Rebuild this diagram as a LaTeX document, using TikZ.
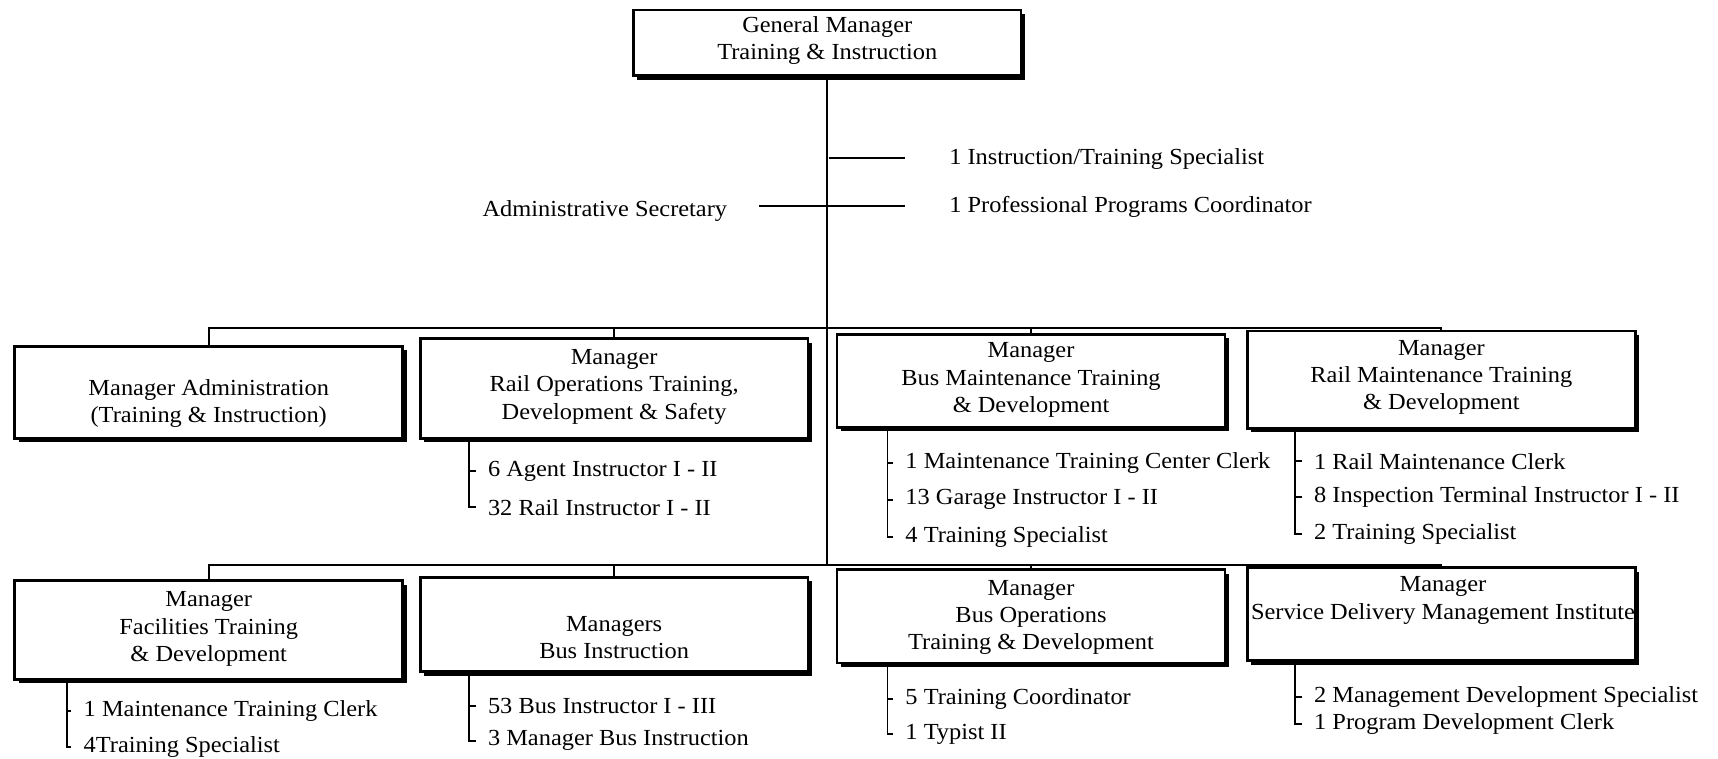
\documentclass[tikz,border=0pt]{standalone}
\usepackage{fontspec}
\setmainfont{Liberation Serif}[FakeStretch=1.06]
\usetikzlibrary{shadows}
\tikzset{
  orgbox/.style={draw, line width=1.2pt, fill=white, inner sep=0pt, minimum width=177pt,
    drop shadow={shadow xshift=1.8pt, shadow yshift=-1.8pt, opacity=1, fill=black}},
  boxtext/.style={align=center, inner sep=0pt, font=\fontsize{10.5pt}{12.5pt}\selectfont},
  item/.style={anchor=west, inner sep=0pt, font=\fontsize{10.5pt}{12.5pt}\selectfont},
  wire/.style={line width=0.9pt},
  tk/.style={xshift=-5.5pt},
}
\begin{document}
\begin{tikzpicture}[x=0.5pt,y=-0.5pt]
\useasboundingbox (0,0) rectangle (1568,692);
% boxes
\node[orgbox, minimum height=30pt] (GM) at (755,39) {};
\node[boxtext] (GMt) at (755,37) {General Manager\\Training \& Instruction};

\node[orgbox, minimum height=42pt] (A) at (190.5,358) {};
\node[boxtext] (At) at (190.5,368) {Manager Administration\\(Training \& Instruction)};
\node[orgbox, minimum height=45.5pt] (B) at (560.5,354.5) {};
\node[boxtext] (Bt) at (560.5,353) {Manager\\Rail Operations Training,\\Development \& Safety};
\node[orgbox, minimum height=42.5pt] (C) at (941,347.5) {};
\node[boxtext] (Ct) at (941,347) {Manager\\Bus Maintenance Training\\\& Development};
\node[orgbox, minimum height=44.5pt] (D) at (1315.5,346.5) {};
\node[boxtext] (Dt) at (1315.5,344.5) {Manager\\Rail Maintenance Training\\\& Development};

\node[orgbox, minimum height=45pt] (E) at (190.5,575) {};
\node[boxtext] (Et) at (190.5,574) {Manager\\Facilities Training\\\& Development};
\node[orgbox, minimum height=43pt] (F) at (560.5,570) {};
\node[boxtext] (Ft) at (560.5,582) {Managers\\Bus Instruction};
\node[orgbox, minimum height=42.5pt] (G) at (941,562.5) {};
\node[boxtext] (Gt) at (941,563.5) {Manager\\Bus Operations\\Training \& Development};
\node[orgbox, minimum height=42.5pt] (H) at (1315.5,560.5) {};
\node[boxtext] (Ht) at (1317,548) {Manager\\Service Delivery Management Institute};

% staff of GM
\coordinate (bus1) at (755,299);
\coordinate (bus2) at (755,516);
\draw[wire] (GM.south) -- (bus2);
\node[item] (s1) at (866,145) {1 Instruction/Training Specialist};
\node[item] (s2) at (866,189) {1 Professional Programs Coordinator};
\node[item, anchor=east] (sec) at (664,193) {Administrative Secretary};
\coordinate (s1a) at (757,144);
\coordinate (s1b) at (826,144);
\coordinate (s2a) at (693,188);
\coordinate (s2b) at (826,188);
\draw[wire] (s1a) -- (s1b);
\draw[wire] (s2a) -- (s2b);

% buses
\draw[wire] (A.north) |- (bus1) -| (D.north);
\draw[wire] (B.north) -- (B.north |- bus1);
\draw[wire] (C.north) -- (C.north |- bus1);
\draw[wire] (E.north) |- (bus2) -| (H.north);
\draw[wire] (F.north) -- (F.north |- bus2);
\draw[wire] (G.north) -- (G.north |- bus2);

% sub-items
% B
\node[item] (b1) at (445,430) {6 Agent Instructor I - II};
\node[item] (b2) at (445,463) {32 Rail Instructor I - II};
\draw[wire] (B.south -| 428,0) |- ([tk]b2.west);
\draw[wire] (b1.west -| 428,0) -- ([tk]b1.west);
% C
\node[item] (c1) at (826,423) {1 Maintenance Training Center Clerk};
\node[item] (c2) at (826,456) {13 Garage Instructor I - II};
\node[item] (c3) at (826,490) {4 Training Specialist};
\draw[wire] (C.south -| 810,0) |- ([tk]c3.west);
\draw[wire] (c1.west -| 810,0) -- ([tk]c1.west);
\draw[wire] (c2.west -| 810,0) -- ([tk]c2.west);
% D
\node[item] (d1) at (1199,421) {1 Rail Maintenance Clerk};
\node[item] (d2) at (1199,454) {8 Inspection Terminal Instructor I - II};
\node[item] (d3) at (1199,487) {2 Training Specialist};
\draw[wire] (D.south -| 1182,0) |- ([tk]d3.west);
\draw[wire] (d1.west -| 1182,0) -- ([tk]d1.west);
\draw[wire] (d2.west -| 1182,0) -- ([tk]d2.west);
% E
\node[item] (e1) at (76,649) {1 Maintenance Training Clerk};
\node[item] (e2) at (76,682) {4Training Specialist};
\draw[wire] (E.south -| 61,0) |- ([tk]e2.west);
\draw[wire] (e1.west -| 61,0) -- ([tk]e1.west);
% F
\node[item] (f1) at (445,644) {53 Bus Instructor I - III};
\node[item] (f2) at (445,676) {3 Manager Bus Instruction};
\draw[wire] (F.south -| 428,0) |- ([tk]f2.west);
\draw[wire] (f1.west -| 428,0) -- ([tk]f1.west);
% G
\node[item] (g1) at (826,638) {5 Training Coordinator};
\node[item] (g2) at (826,670) {1 Typist II};
\draw[wire] (G.south -| 810,0) |- ([tk]g2.west);
\draw[wire] (g1.west -| 810,0) -- ([tk]g1.west);
% H
\node[item] (h1) at (1199,636) {2 Management Development Specialist};
\node[item] (h2) at (1199,661) {1 Program Development Clerk};
\draw[wire] (H.south -| 1182,0) |- ([tk]h2.west);
\draw[wire] (h1.west -| 1182,0) -- ([tk]h1.west);
\end{tikzpicture}
\end{document}
